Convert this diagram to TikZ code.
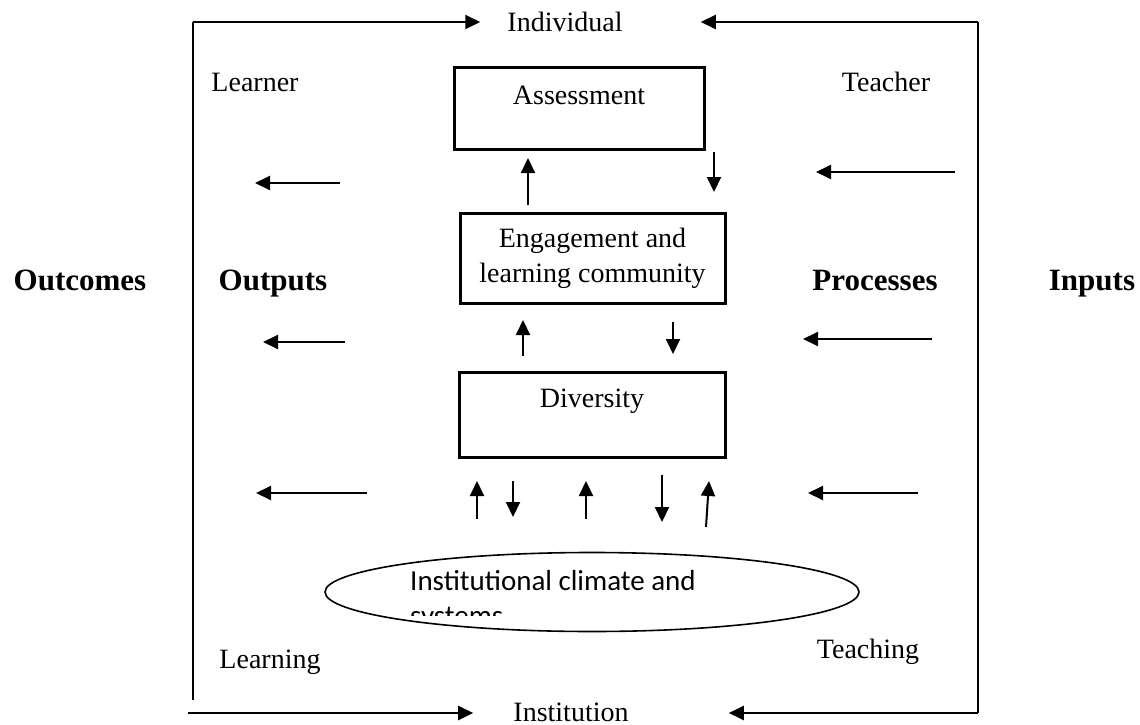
\documentclass[tikz,border=0pt]{standalone}
\usepackage{fontspec}
\setmainfont{Liberation Serif}
\newfontfamily\calibrifont{Carlito}
\usetikzlibrary{arrows.meta,shapes.geometric}
\begin{document}
\begin{tikzpicture}[x=1pt,y=-1pt,
  lbl/.style={inner sep=0pt, anchor=base, font=\fontsize{28}{35}\selectfont},
  head/.style={inner sep=0pt, anchor=base, font=\fontsize{31}{37}\selectfont\bfseries},
  box/.style={draw, line width=3pt, inner sep=0pt, font=\fontsize{28}{35}\selectfont, align=center},
  ell/.style={draw, ellipse, line width=1.6pt, inner sep=0pt},
  elltext/.style={inner sep=0pt, anchor=base west, font=\calibrifont\fontsize{29}{35}\selectfont},
  arr/.style={line width=2pt, -{Triangle[length=15pt,width=14pt]}},
  framel/.style={line width=1.5pt}]
\useasboundingbox (0,0) rectangle (1140,725);

% texts (base anchored)
\node[lbl] (ind) at (565,32) {Individual};
\node[lbl] (inst) at (571,721) {Institution};
\node[lbl] (learner) at (255,91) {Learner};
\node[lbl] (teacher) at (886,92) {Teacher};
\node[lbl] (learning) at (270,668) {Learning};
\node[lbl] (teaching) at (868,658) {Teaching};
\node[head] (outcomes) at (80,290) {Outcomes};
\node[head] (outputs) at (273,290) {Outputs};
\node[head] (processes) at (875,290) {Processes};
\node[head] (inputs) at (1092,290) {Inputs};

% boxes
\node[box, minimum width=250pt, minimum height=81pt] (assess) at (579,108.5) {\raisebox{4.5pt}[0pt][0pt]{Assessment}};
\node[box, minimum width=265pt, minimum height=90pt] (engage) at (592.5,258) {Engagement and\\learning community};
\node[box, minimum width=266pt, minimum height=85pt] (divers) at (592,414.5) {\raisebox{7.5pt}[0pt][0pt]{Diversity}};

% ellipse
\node[ell, minimum width=534pt, minimum height=79pt] (clim) at (592,592) {};
\node[elltext] (climtxt) at (410,590) {Institutional climate and};
\begin{scope}
  \clip (400,600) rectangle (540,615);
  \node[elltext] (climtxt2) at (410,625) {systems};
\end{scope}

% frame
\coordinate (tl) at (193,22);
\coordinate (tr) at (978,22);
\coordinate (lb) at (193,700);
\coordinate (bl) at (188,713);
\coordinate (br) at (978,713);
\draw[framel] (lb) -- (tl);
\draw[framel] (tr) -- (br);
\draw[arr] (tl) -- (tl -| ind.west) [shorten >=27pt];
\draw[arr] (tr) -- (tr -| ind.east) [shorten >=78pt];
\draw[arr] (bl) -- (bl -| inst.west) [shorten >=40pt];
\draw[arr] (br) -- (br -| inst.east) [shorten >=100pt];

% side arrows
\coordinate (l1s) at (340,183); \coordinate (l1e) at (255,183);
\coordinate (l2s) at (345,342); \coordinate (l2e) at (263,342);
\coordinate (l3s) at (367,493); \coordinate (l3e) at (256,493);
\coordinate (r1s) at (955,172); \coordinate (r1e) at (816,172);
\coordinate (r2s) at (932,339); \coordinate (r2e) at (803,339);
\coordinate (r3s) at (918,493); \coordinate (r3e) at (808,493);
\draw[arr] (l1s) -- (l1e);
\draw[arr] (l2s) -- (l2e);
\draw[arr] (l3s) -- (l3e);
\draw[arr] (r1s) -- (r1e);
\draw[arr] (r2s) -- (r2e);
\draw[arr] (r3s) -- (r3e);

% vertical arrows
\coordinate (a1s) at (528,205); \coordinate (a1e) at (528,158);
\coordinate (a2s) at (714,152); \coordinate (a2e) at (714,192);
\coordinate (b1s) at (523,356); \coordinate (b1e) at (523,320);
\coordinate (b2s) at (673,322); \coordinate (b2e) at (673,354);
\coordinate (c1s) at (477,519); \coordinate (c1e) at (477,481);
\coordinate (c2s) at (513,481); \coordinate (c2e) at (513,517);
\coordinate (c3s) at (586,519); \coordinate (c3e) at (586,481);
\coordinate (c4s) at (662,475); \coordinate (c4e) at (662,522);
\coordinate (c5s) at (706,527); \coordinate (c5e) at (709,481);
\draw[arr] (a1s) -- (a1e);
\draw[arr] (a2s) -- (a2e);
\draw[arr] (b1s) -- (b1e);
\draw[arr] (b2s) -- (b2e);
\draw[arr] (c1s) -- (c1e);
\draw[arr] (c2s) -- (c2e);
\draw[arr] (c3s) -- (c3e);
\draw[arr] (c4s) -- (c4e);
\draw[arr] (c5s) -- (c5e);
\end{tikzpicture}
\end{document}
